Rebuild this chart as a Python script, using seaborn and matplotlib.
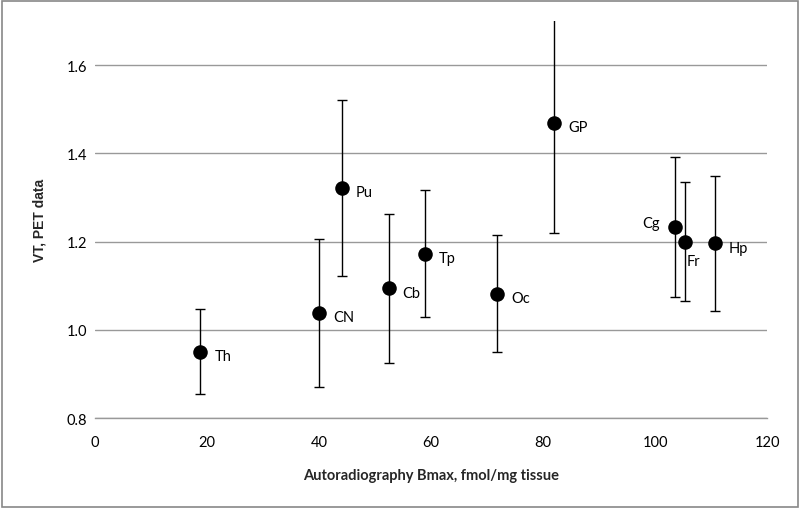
import numpy as np
import pandas as pd
import matplotlib
matplotlib.use("Agg")
import matplotlib.pyplot as plt
import seaborn as sns

# Data
regions = ["Th", "CN", "Pu", "Cb", "Tp", "Oc", "GP", "Cg", "Fr", "Hp"]
bmax = [18.8, 40.0, 44.1, 52.4, 58.9, 71.8, 82.0, 103.6, 105.4, 110.7]
vt = [0.951, 1.038, 1.321, 1.094, 1.173, 1.082, 1.469, 1.233, 1.200, 1.196]
vt_err = [0.096, 0.167, 0.199, 0.168, 0.144, 0.133, 0.249, 0.159, 0.135, 0.152]

# label offsets in points (dx, dy)
label_offsets = {"Cg": (-24, 3), "Fr": (1, -14)}

df = pd.DataFrame({"region": regions, "bmax": bmax, "vt": vt, "err": vt_err})

sns.set_theme(style="white")
plt.rcParams["font.family"] = ["Lato", "DejaVu Sans"]

fig = plt.figure(figsize=(8, 5.1), dpi=100)
ax = fig.add_axes([0.119, 0.178, 0.840, 0.779])

# error bars first, markers on top
ax.errorbar(df["bmax"], df["vt"], yerr=df["err"], fmt="none", ecolor="black",
            elinewidth=1, capsize=3.5, capthick=1, zorder=2)
sns.scatterplot(data=df, x="bmax", y="vt", ax=ax, color="black", s=110,
                edgecolor="black", linewidth=0, zorder=3, legend=False)

for _, row in df.iterrows():
    dx, dy = label_offsets.get(row["region"], (10, -3))
    ax.annotate(row["region"], (row["bmax"], row["vt"]), xytext=(dx, dy),
                textcoords="offset points", fontsize=10.5, color="black",
                ha="left", va="center")

ax.set_xlim(0, 120)
ax.set_ylim(0.8, 1.7)
ax.set_xticks(np.arange(0, 121, 20))
ax.set_yticks([0.8, 1.0, 1.2, 1.4, 1.6])
ax.set_yticklabels(["0.8", "1.0", "1.2", "1.4", "1.6"])
ax.yaxis.grid(True, color="#999999", linewidth=1)
ax.xaxis.grid(False)
ax.set_axisbelow(True)
for side in ["top", "right", "left"]:
    ax.spines[side].set_visible(False)
ax.spines["bottom"].set_color("#999999")
ax.spines["bottom"].set_linewidth(1)
ax.tick_params(axis="both", length=0, labelsize=10.5, colors="black")
ax.tick_params(axis="x", pad=12)
ax.tick_params(axis="y", pad=6)

ax.set_xlabel("Autoradiography Bmax, fmol/mg tissue", fontsize=10.5,
              fontweight="bold", labelpad=14)
ax.set_ylabel("VT, PET data", fontsize=10, fontweight="bold",
              family=["Liberation Sans", "DejaVu Sans"], labelpad=14)

# thin grey border around the figure
fig.patches.append(plt.Rectangle((0.003, 0.004), 0.994, 0.992, transform=fig.transFigure,
                                 fill=False, edgecolor="#888888", linewidth=1.2))

fig.savefig("out.png", dpi=100)
